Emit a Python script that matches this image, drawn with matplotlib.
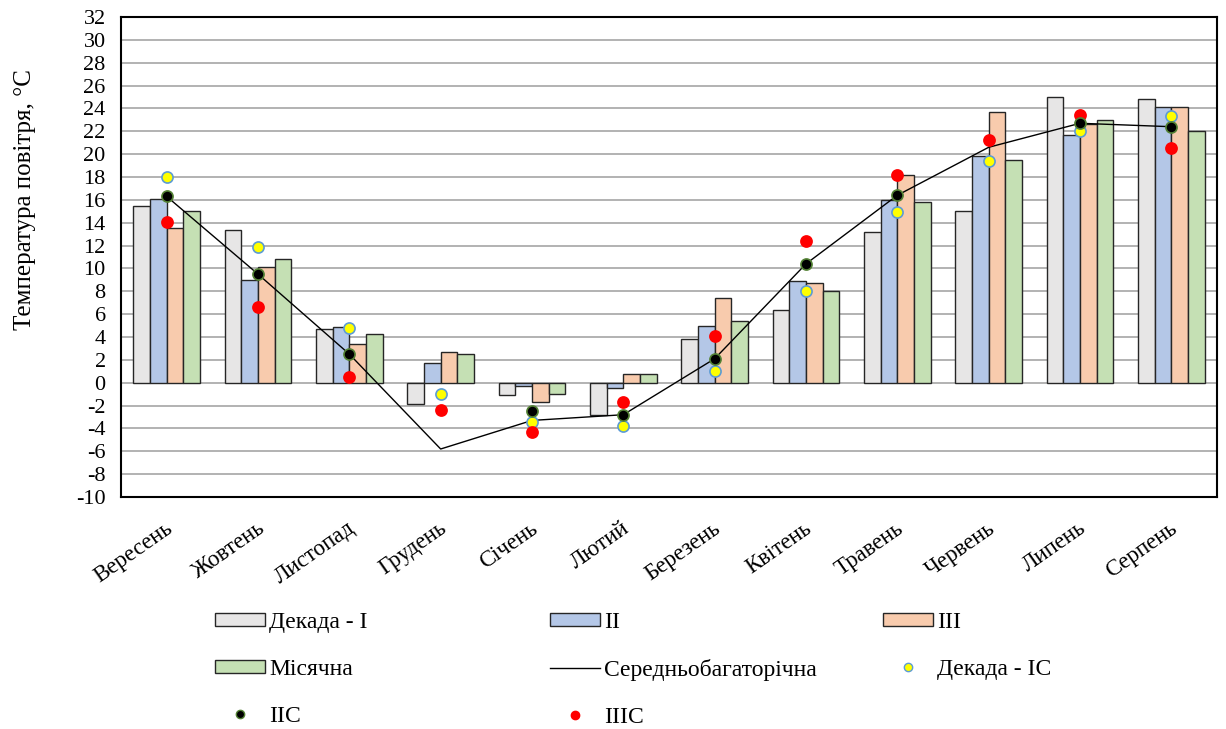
import numpy as np
import matplotlib
matplotlib.use("Agg")
import matplotlib.pyplot as plt
from matplotlib.patches import Patch
from matplotlib.lines import Line2D
from matplotlib.transforms import ScaledTranslation

plt.rcParams['font.family'] = ['Liberation Serif', 'DejaVu Serif']
plt.rcParams['axes.unicode_minus'] = False

# --- Data ---
months = ["Вересень", "Жовтень", "Листопад", "Грудень", "Січень", "Лютий",
          "Березень", "Квітень", "Травень", "Червень", "Липень", "Серпень"]

dec_1 = [15.5, 13.4, 4.7, -1.9, -1.1, -2.8, 3.8, 6.4, 13.2, 15.0, 25.0, 24.8]
dec_2 = [16.1, 9.0, 4.9, 1.7, -0.3, -0.5, 5.0, 8.9, 16.0, 19.8, 21.7, 24.1]
dec_3 = [13.5, 10.1, 3.4, 2.7, -1.7, 0.8, 7.4, 8.7, 18.2, 23.7, 22.6, 24.1]
monthly = [15.0, 10.8, 4.3, 2.5, -1.0, 0.8, 5.4, 8.0, 15.8, 19.5, 23.0, 22.0]
long_term = [16.3, 9.5, 2.5, -5.8, -3.3, -2.8, 2.1, 10.4, 16.4, 20.6, 22.7, 22.4]

dec_1c = [18.0, 11.9, 4.8, -1.0, -3.4, -3.8, 1.0, 8.0, 14.9, 19.4, 22.0, 23.3]
dec_2c = [16.3, 9.5, 2.5, np.nan, -2.5, -2.8, 2.1, 10.4, 16.4, np.nan, 22.7, 22.4]
dec_3c = [14.1, 6.6, 0.5, -2.4, -4.3, -1.7, 4.1, 12.4, 18.2, 21.2, 23.4, 20.5]

# --- Styles ---
bar_colors = ["#E7E6E6", "#B4C7E7", "#F8CBAD", "#C5E0B4"]
bar_labels = ["Декада - I", "II", "III", "Місячна"]
FS = 17

fig = plt.figure(figsize=(12.26, 7.29), dpi=100)
ax = fig.add_axes([121 / 1226, 1 - 497 / 729, (1217 - 121) / 1226, (497 - 17) / 729])

x = np.arange(len(months))
w = 0.1825
series = [dec_1, dec_2, dec_3, monthly]
for k, (vals, col) in enumerate(zip(series, bar_colors)):
    ax.bar(x + (k - 1.5) * w, vals, width=w, color=col, edgecolor="#262626",
           linewidth=1.0, zorder=2)

ax.plot(x, long_term, color="black", linewidth=1.0, zorder=3)

ms = 8
ax.plot(x, dec_1c, linestyle="none", marker="o", markersize=ms,
        markerfacecolor="#FFFF00", markeredgecolor="#5B9BD5", markeredgewidth=1.2, zorder=4)
ax.plot(x, dec_2c, linestyle="none", marker="o", markersize=ms,
        markerfacecolor="black", markeredgecolor="#548235", markeredgewidth=1.2, zorder=5)
ax.plot(x, dec_3c, linestyle="none", marker="o", markersize=ms,
        markerfacecolor="#FF0000", markeredgecolor="#FF0000", markeredgewidth=1.2, zorder=4)

# axes
ax.set_xlim(-0.5, len(months) - 0.5)
ax.set_ylim(-10, 32)
ax.set_yticks(np.arange(-10, 33, 2))
ax.yaxis.grid(True, color="#A6A6A6", linewidth=1.2)
ax.set_axisbelow(True)
for s in ax.spines.values():
    s.set_linewidth(1.5)
    s.set_color("black")
ax.tick_params(axis="y", length=0, pad=11, labelsize=16)
ax.tick_params(axis="x", length=0, pad=15)
ax.set_xticks(x)
ax.set_xticklabels(months, rotation=35, ha="right", va="top",
                   rotation_mode="anchor", fontsize=16.5)
shift = ScaledTranslation(-2 / 100, 0, fig.dpi_scale_trans)
for lab in ax.get_xticklabels():
    lab.set_transform(lab.get_transform() + shift)
ax.set_ylabel("Температура повітря, °С", fontsize=18)
ax.yaxis.set_label_coords(-0.078, 0.619)

# legend, three columns placed separately
h_bar = [Patch(facecolor=c, edgecolor="#262626", linewidth=1.0) for c in bar_colors]
h_line = Line2D([], [], color="black", linewidth=1.0)
h_ic = Line2D([], [], linestyle="none", marker="o", markersize=6,
              markerfacecolor="#FFFF00", markeredgecolor="#5B9BD5")
h_iic = Line2D([], [], linestyle="none", marker="o", markersize=6,
               markerfacecolor="black", markeredgecolor="#548235")
h_iiic = Line2D([], [], linestyle="none", marker="o", markersize=6,
                markerfacecolor="#FF0000", markeredgecolor="#FF0000")

columns = [
    ([h_bar[0], h_bar[3], h_iic], [bar_labels[0], bar_labels[3], "IIC"], 215),
    ([h_bar[1], h_line, h_iiic], [bar_labels[1], "Середньобагаторічна", "IIIC"], 550),
    ([h_bar[2], h_ic], [bar_labels[2], "Декада - IC"], 883),
]
for handles, labels, xpx in columns:
    fig.legend(handles, labels, loc="upper left",
               bbox_to_anchor=(xpx / 1226, 1 - 612 / 729),
               frameon=False, fontsize=FS, handlelength=2.1,
               handleheight=0.5, handletextpad=0.2, labelspacing=1.1,
               borderpad=0, borderaxespad=0)

fig.savefig("out.png", dpi=100)
